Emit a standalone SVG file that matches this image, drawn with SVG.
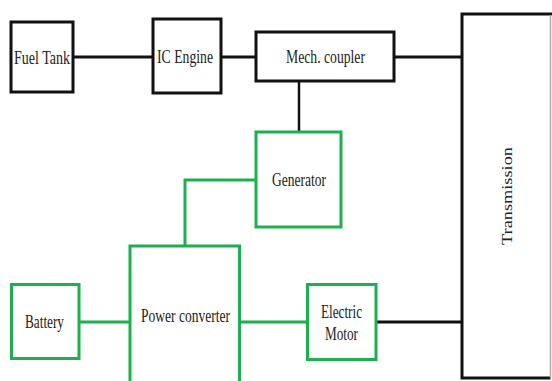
<svg xmlns="http://www.w3.org/2000/svg" width="552" height="381" viewBox="0 0 552 381">
<style>
.box{fill:#fff;stroke:#111;stroke-width:3}
.gbox{fill:#fff;stroke:#1cb04e;stroke-width:3}
.bl{fill:none;stroke:#111;stroke-width:3}
.gl{fill:none;stroke:#1cb04e;stroke-width:3}
text{font-family:"Liberation Serif","Times New Roman",serif;font-size:19px;fill:#222;text-anchor:middle}
</style>
<rect width="552" height="381" fill="#fff"/>
<g id="connectors">
<path class="bl" d="M73,57H153"/>
<path class="bl" d="M221,57H256"/>
<path class="bl" d="M394,57H462"/>
<path class="bl" d="M299,81V132" style="stroke-width:2.5"/>
<path class="gl" d="M256,180H185V246"/>
<path class="gl" d="M79,322H130"/>
<path class="gl" d="M239.5,322H307.5"/>
<path class="bl" d="M376,322H462"/>
</g>
<g id="fuel-tank">
<rect class="box" x="11" y="22" width="62" height="70"/>
<text x="42" y="64" textLength="56" lengthAdjust="spacingAndGlyphs">Fuel Tank</text>
</g>
<g id="ic-engine">
<rect class="box" x="153" y="19" width="68" height="74"/>
<text x="185" y="63" textLength="56" lengthAdjust="spacingAndGlyphs">IC Engine</text>
</g>
<g id="mech-coupler">
<rect class="box" x="256" y="32" width="138" height="49"/>
<text x="325.5" y="63" textLength="79" lengthAdjust="spacingAndGlyphs">Mech. coupler</text>
</g>
<g id="transmission">
<path class="bl" d="M552,14H462V378H550.5"/>
<path d="M550.5,15V378" fill="none" stroke="#aaa" stroke-width="1.5"/>
<text transform="translate(512,196) rotate(-90) scale(1,0.8)" x="0" y="0" textLength="98" lengthAdjust="spacingAndGlyphs">Transmission</text>
</g>
<g id="generator">
<rect class="gbox" x="256" y="132" width="85" height="95"/>
<text x="299" y="186" textLength="54" lengthAdjust="spacingAndGlyphs">Generator</text>
</g>
<g id="power-converter">
<path class="gbox" d="M130,385V246H239.5V385"/>
<text x="185.5" y="322" textLength="89" lengthAdjust="spacingAndGlyphs">Power converter</text>
</g>
<g id="battery">
<rect class="gbox" x="11.5" y="284.5" width="67.5" height="74"/>
<text x="44.5" y="328" textLength="39" lengthAdjust="spacingAndGlyphs">Battery</text>
</g>
<g id="electric-motor">
<rect class="gbox" x="307.5" y="284.5" width="68.5" height="75"/>
<text x="341.5" y="318" textLength="41" lengthAdjust="spacingAndGlyphs">Electric</text>
<text x="341.5" y="340" textLength="33" lengthAdjust="spacingAndGlyphs">Motor</text>
</g>
</svg>
